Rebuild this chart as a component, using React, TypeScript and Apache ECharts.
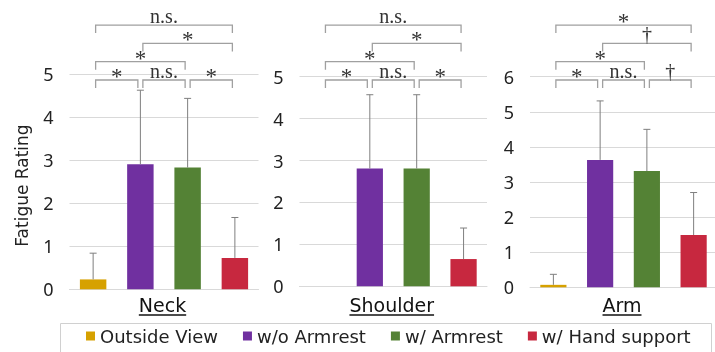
import React, { useEffect, useRef } from "react";
import * as echarts from "echarts";

// ---- data ----
const panels = ["Neck", "Shoulder", "Arm"];
const conditions = ["Outside View", "w/o Armrest", "w/ Armrest", "w/ Hand support"];
const outsideViewMean = [0.23, 0, 0.07];
const woArmrestMean = [2.91, 2.81, 3.63];
const wArmrestMean = [2.83, 2.81, 3.31];
const handSupportMean = [0.73, 0.65, 1.49];
const outsideViewSD = [0.61, 0, 0.3];
const woArmrestSD = [1.72, 1.76, 1.68];
const wArmrestSD = [1.61, 1.76, 1.19];
const handSupportSD = [0.94, 0.74, 1.21];
const yMax = [5, 5, 6];
const yTicks = [1, 1, 1];
// significance brackets: [fromCondition, toCondition, level, label]
const neckSig: [number, number, number, string][] = [
  [0, 1, 0, "*"], [1, 2, 0, "n.s."], [2, 3, 0, "*"],
  [0, 2, 1, "*"], [1, 3, 2, "*"], [0, 3, 3, "n.s."],
];
const shoulderSig: [number, number, number, string][] = [
  [0, 1, 0, "*"], [1, 2, 0, "n.s."], [2, 3, 0, "*"],
  [0, 2, 1, "*"], [1, 3, 2, "*"], [0, 3, 3, "n.s."],
];
const armSig: [number, number, number, string][] = [
  [0, 1, 0, "*"], [1, 2, 0, "n.s."], [2, 3, 0, "†"],
  [0, 2, 1, "*"], [1, 3, 2, "†"], [0, 3, 3, "*"],
];

// ---- styles / layout ----
const colors = ["#D6A100", "#7030A0", "#548235", "#C7283F"];
const grids = [
  { left: 69.5, top: 74.3, width: 189, height: 215 },
  { left: 299.5, top: 76.7, width: 187.5, height: 209.6 },
  { left: 530, top: 76.7, width: 187, height: 210.6 },
];
const SANS = "DejaVu Sans";
const SERIF = "Liberation Serif";
const bracketBaseY = 80;
const bracketStep = 18.3;
const bracketTick = 8;

function measure(text: string, font: string) {
  const c = document.createElement("canvas").getContext("2d")!;
  c.font = font;
  return c.measureText(text).width;
}

export default function App() {
  const ref = useRef<HTMLDivElement>(null);
  useEffect(() => {
    const chart = echarts.init(ref.current!, undefined, { renderer: "svg" });
    const means = [outsideViewMean, woArmrestMean, wArmrestMean, handSupportMean];
    const sds = [outsideViewSD, woArmrestSD, wArmrestSD, handSupportSD];
    const sigs = [neckSig, shoulderSig, armSig];

    const series: any[] = [];
    panels.forEach((_, p) => {
      conditions.forEach((name, c) => {
        series.push({
          type: "bar",
          name,
          xAxisIndex: p,
          yAxisIndex: p,
          barWidth: "56%",
          barGap: "-100%",
          color: colors[c],
          itemStyle: { color: colors[c] },
          data: conditions.map((__, i) => (i === c ? means[c][p] : "-")),
        });
      });
      series.push({
        type: "custom",
        xAxisIndex: p,
        yAxisIndex: p,
        z: 5,
        silent: true,
        data: conditions.map((__, c) => [c, means[c][p], means[c][p] + sds[c][p]]),
        encode: { x: 0, y: [1, 2] },
        renderItem: (params: any, api: any) => {
          const c = api.value(0);
          const lo = api.coord([c, api.value(1)]);
          const hi = api.coord([c, api.value(2)]);
          if (Math.abs(lo[1] - hi[1]) < 0.5) return { type: "group", children: [] };
          const st = { stroke: "#7F7F7F", lineWidth: 1 };
          return {
            type: "group",
            children: [
              { type: "line", shape: { x1: lo[0], y1: lo[1], x2: hi[0], y2: hi[1] }, style: st },
              { type: "line", shape: { x1: hi[0] - 3.5, y1: hi[1], x2: hi[0] + 3.5, y2: hi[1] }, style: st },
            ],
          };
        },
      });
      const sig = sigs[p];
      series.push({
        type: "custom",
        xAxisIndex: p,
        yAxisIndex: p,
        clip: false,
        silent: true,
        z: 6,
        data: sig.map((s) => [s[0], s[1], s[2]]),
        encode: { x: [0, 1], y: 2 },
        renderItem: (params: any, api: any) => {
          const from = api.value(0);
          const to = api.value(1);
          const level = api.value(2);
          const label = sig[params.dataIndex][3];
          const x1 = api.coord([from, 0])[0] + 2.5;
          const x2 = api.coord([to, 0])[0] - 2.5;
          const y = bracketBaseY - level * bracketStep;
          let fs = 20;
          let ty = y - 8.8;
          if (label === "*") {
            fs = 23;
            ty = y - 3.5;
          } else if (label === "†") {
            fs = 20;
            ty = y - 9.5;
          }
          return {
            type: "group",
            children: [
              {
                type: "polyline",
                shape: { points: [[x1, y + bracketTick], [x1, y], [x2, y], [x2, y + bracketTick]] },
                style: { stroke: "#A0A0A0", lineWidth: 1.3, fill: null },
              },
              {
                type: "text",
                x: (x1 + x2) / 2,
                y: ty,
                style: {
                  text: label,
                  fontFamily: SERIF,
                  fontSize: fs,
                  fill: "#333",
                  align: "center",
                  verticalAlign: "middle",
                },
              },
            ],
          };
        },
      });
    });

    const graphic: any[] = [
      {
        type: "text",
        x: 21.5,
        y: 185.5,
        rotation: Math.PI / 2,
        style: {
          text: "Fatigue Rating",
          fontFamily: SANS,
          fontSize: 17,
          fill: "#222",
          align: "center",
          verticalAlign: "middle",
        },
      },
      {
        type: "rect",
        shape: { x: 60.5, y: 323.5, width: 651, height: 40 },
        style: { fill: "none", stroke: "#D0D0D0", lineWidth: 1 },
      },
    ];
    panels.forEach((name, p) => {
      const g = grids[p];
      const cx = g.left + g.width / 2 - 1.5;
      const w = measure(name, `19px "${SANS}"`);
      graphic.push({
        type: "text",
        x: cx,
        y: 305,
        style: { text: name, fontFamily: SANS, fontSize: 19, fill: "#111", align: "center", verticalAlign: "middle" },
      });
      graphic.push({
        type: "line",
        shape: { x1: cx - w / 2, y1: 315, x2: cx + w / 2, y2: 315 },
        style: { stroke: "#111", lineWidth: 1.3 },
      });
    });

    chart.setOption({
      animation: false,
      grid: grids.map((g) => ({ ...g, containLabel: false, outerBoundsMode: "none" })),
      xAxis: panels.map((_, p) => ({
        type: "category",
        gridIndex: p,
        data: conditions,
        axisLine: { show: true, lineStyle: { color: "#D9D9D9", width: 1 } },
        axisTick: { show: false },
        axisLabel: { show: false },
      })),
      yAxis: panels.map((_, p) => ({
        type: "value",
        gridIndex: p,
        min: 0,
        max: yMax[p],
        interval: yTicks[p],
        axisLine: { show: false },
        axisTick: { show: false },
        splitLine: { show: true, lineStyle: { color: "#D9D9D9", width: 1 } },
        axisLabel: { margin: 16, fontSize: 18, fontFamily: "Noto Sans", color: "#222" },
      })),
      legend: {
        data: conditions,
        left: 86,
        top: 327,
        padding: 0,
        itemGap: 25,
        itemWidth: 9,
        itemHeight: 9,
        icon: "rect",
        textStyle: { fontSize: 18, fontFamily: SANS, color: "#222" },
      },
      graphic,
      series,
    });
    return () => chart.dispose();
  }, []);
  return <div ref={ref} style={{ position: "fixed", left: 0, top: 0, width: 715, height: 352 }} />;
}
